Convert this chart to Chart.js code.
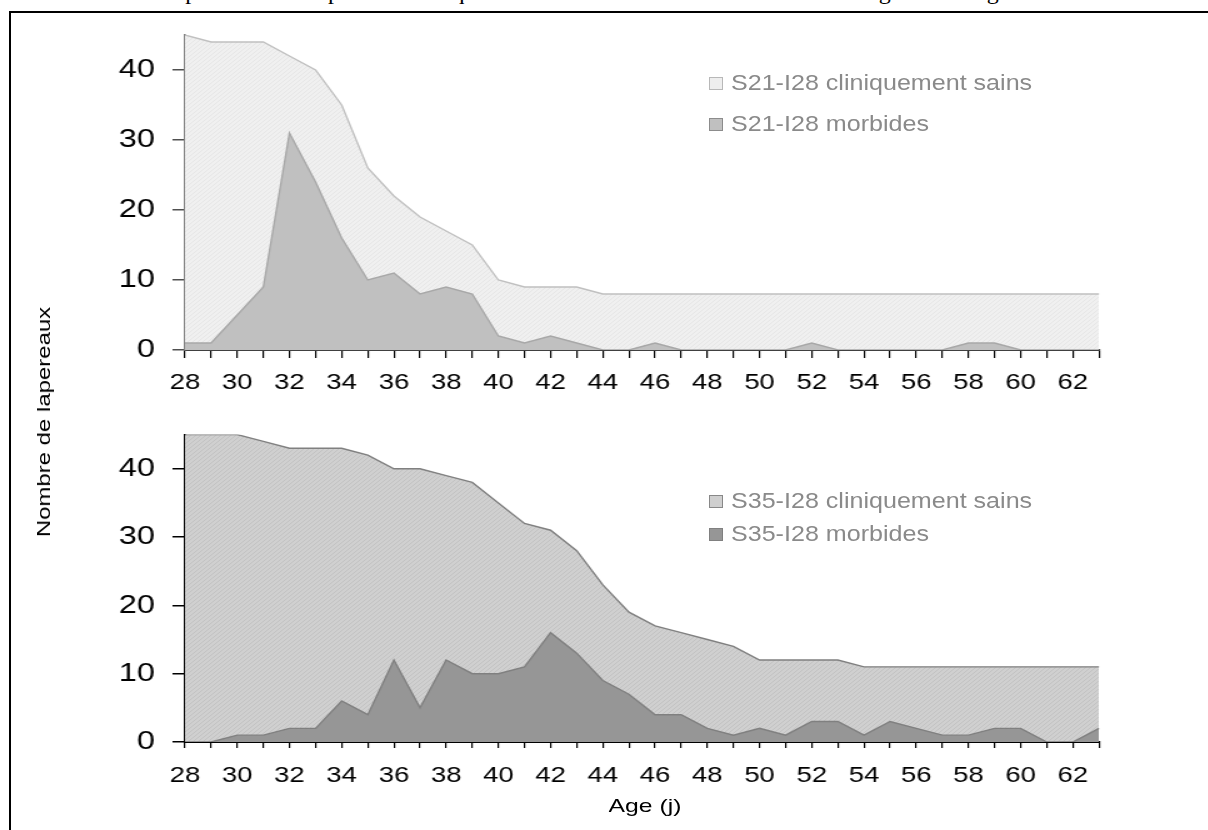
<!DOCTYPE html>
<html>
<head>
<meta charset="utf-8">
<script src="https://cdn.jsdelivr.net/npm/chart.js@4/dist/chart.umd.min.js"></script>
<style>
  html, body { margin: 0; padding: 0; background: #fff; }
  body { width: 1208px; height: 830px; position: relative; overflow: hidden; font-family: Arial, "Liberation Sans", sans-serif; }
  .frame { position: absolute; left: 9px; top: 11px; width: 1400px; height: 1000px; border: 2px solid #000; box-sizing: border-box; }
  .header { position: absolute; left: 14px; top: -21px; font-family: "Liberation Serif", "Times New Roman", serif; font-size: 24px; line-height: 1; white-space: nowrap; color: #000; }
  .stretch { position: absolute; left: 0; width: 967px; transform: scaleX(1.25); transform-origin: 0 0; }
  .legend-row { position: absolute; left: 709px; height: 24px; display: flex; align-items: center; white-space: nowrap; }
  .swatch { width: 14px; height: 13px; box-sizing: border-box; border: 1px solid #888; }
  .legend-text { margin-left: 8px; font-size: 22px; color: #8a8a8a; transform: scaleX(1.14); transform-origin: 0 50%; }
  .ytitle { position: absolute; left: 44px; top: 422px; font-size: 19px; white-space: nowrap; transform: translate(-50%, -50%) rotate(-90deg) scaleX(1.26); }
  .xtitle { position: absolute; left: 645px; top: 806px; font-size: 19px; white-space: nowrap; transform: translate(-50%, -50%) scaleX(1.3); }
</style>
</head>
<body>
<div class="header">Evolution de la répartition des lapereaux cliniquement sains et morbides en fonction de l'âge au sevrage</div>
<div class="frame"></div>

<div class="stretch" style="top:0px;height:400px;"><canvas id="topChart"></canvas></div>
<div class="stretch" style="top:400px;height:420px;"><canvas id="bottomChart"></canvas></div>

<div id="legends"></div>
<div class="ytitle">Nombre de lapereaux</div>
<div class="xtitle">Age (j)</div>

<script>
// Age (jours)
const days = [28, 29, 30, 31, 32, 33, 34, 35, 36, 37, 38, 39, 40, 41, 42, 43, 44, 45,
              46, 47, 48, 49, 50, 51, 52, 53, 54, 55, 56, 57, 58, 59, 60, 61, 62, 63];

// S21-I28
const topLabels = ['S21-I28 cliniquement sains', 'S21-I28 morbides'];
const topHealthy = [45, 44, 44, 44, 42, 40, 35, 26, 22, 19, 17, 15, 10, 9, 9, 9, 8, 8,
                    8, 8, 8, 8, 8, 8, 8, 8, 8, 8, 8, 8, 8, 8, 8, 8, 8, 8];
const topMorbid = [1, 1, 5, 9, 31, 24, 16, 10, 11, 8, 9, 8, 2, 1, 2, 1, 0, 0,
                   1, 0, 0, 0, 0, 0, 1, 0, 0, 0, 0, 0, 1, 1, 0, 0, 0, 0];

// S35-I28
const bottomLabels = ['S35-I28 cliniquement sains', 'S35-I28 morbides'];
const bottomHealthy = [45, 45, 45, 44, 43, 43, 43, 42, 40, 40, 39, 38, 35, 32, 31, 28, 23, 19,
                       17, 16, 15, 14, 12, 12, 12, 12, 11, 11, 11, 11, 11, 11, 11, 11, 11, 11];
const bottomMorbid = [0, 0, 1, 1, 2, 2, 6, 4, 12, 5, 12, 10, 10, 11, 16, 13, 9, 7,
                      4, 4, 2, 1, 2, 1, 3, 3, 1, 3, 2, 1, 1, 2, 2, 0, 0, 2];

const yTicks = { min: 0, max: 45, step: 10 };

// fine diagonal hatch like the excel fills
function hatch(base, line) {
  const c = document.createElement('canvas');
  c.width = 4; c.height = 4;
  const g = c.getContext('2d');
  g.fillStyle = base;
  g.fillRect(0, 0, 4, 4);
  g.fillStyle = line;
  for (let i = 0; i < 4; i++) g.fillRect(i, 3 - i, 1, 1);
  return g.createPattern(c, 'repeat');
}

function makeChart(id, labels, healthy, morbid, st) {
  const ctx = document.getElementById(id).getContext('2d');
  return new Chart(ctx, {
    type: 'line',
    data: {
      labels: days,
      datasets: [
        {
          label: labels[0],
          data: healthy,
          fill: 'origin',
          backgroundColor: st.healthyFill,
          borderColor: st.healthyLine,
          borderWidth: 1.4,
          pointRadius: 0,
          tension: 0,
          order: 2
        },
        {
          label: labels[1],
          data: morbid,
          fill: 'origin',
          backgroundColor: st.morbidFill,
          borderColor: st.morbidLine,
          borderWidth: 1.4,
          pointRadius: 0,
          tension: 0,
          order: 1
        }
      ]
    },
    options: {
      responsive: true,
      maintainAspectRatio: false,
      animation: false,
      layout: { padding: { left: 0, right: 87.8, top: st.top, bottom: 0 } },
      plugins: { legend: { display: false }, tooltip: { enabled: false } },
      scales: {
        x: {
          type: 'category',
          offset: false,
          ticks: {
            autoSkip: false,
            maxRotation: 0,
            minRotation: 0,
            color: '#000',
            padding: st.xPad,
            font: { family: 'Arial, "Liberation Sans"', size: 22 },
            callback: (v, i) => (i % 2 === 0 ? days[i] : '')
          },
          grid: { drawOnChartArea: false, offset: false, tickLength: st.xTick, color: '#000', lineWidth: 1.2 },
          border: { color: st.xAxis, width: 2 },
          afterFit: s => { s.height = st.xHeight; }
        },
        y: {
          min: yTicks.min,
          max: yTicks.max,
          ticks: {
            stepSize: yTicks.step,
            includeBounds: false,
            color: '#000',
            padding: 14,
            font: { family: 'Arial, "Liberation Sans"', size: 26 }
          },
          grid: { drawOnChartArea: false, tickLength: 10, color: st.yTickColor, lineWidth: 1.5 },
          border: { color: st.yAxis, width: 1.6 },
          afterFit: s => { s.width = 148; }
        }
      }
    }
  });
}

const topStyle = {
  healthyFill: hatch('#f0f0f0', '#e6e6e6'), healthyLine: '#c0c0c0',
  morbidFill: '#c0c0c0', morbidLine: '#a8a8a8',
  xAxis: '#404040', yAxis: '#808080', yTickColor: '#505050',
  top: 35, xHeight: 50, xTick: 8, xPad: 12
};
const bottomStyle = {
  healthyFill: hatch('#d0d0d0', '#c2c2c2'), healthyLine: '#808080',
  morbidFill: '#969696', morbidLine: '#808080',
  xAxis: '#000', yAxis: '#000', yTickColor: '#000',
  top: 34.6, xHeight: 78, xTick: 6, xPad: 15
};

makeChart('topChart', topLabels, topHealthy, topMorbid, topStyle);
makeChart('bottomChart', bottomLabels, bottomHealthy, bottomMorbid, bottomStyle);

// legends (html, placed inside the plot areas)
const legendRows = [
  { text: topLabels[0], y: 83, fill: '#eeeeee', border: '#b8b8b8' },
  { text: topLabels[1], y: 124, fill: '#c0c0c0', border: '#8c8c8c' },
  { text: bottomLabels[0], y: 501, fill: '#cfcfcf', border: '#888' },
  { text: bottomLabels[1], y: 534, fill: '#969696', border: '#808080' }
];
document.getElementById('legends').innerHTML = legendRows.map(r => `
  <div class="legend-row" style="top:${r.y - 12}px">
    <div class="swatch" style="background:${r.fill};border-color:${r.border}"></div>
    <span class="legend-text">${r.text}</span>
  </div>`).join('');
</script>
</body>
</html>
